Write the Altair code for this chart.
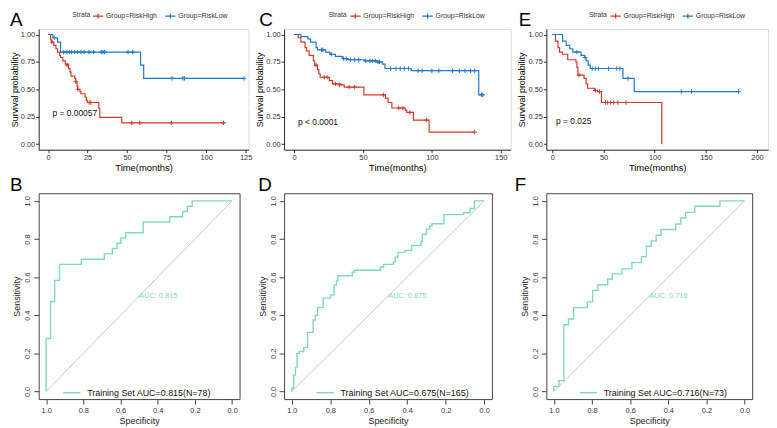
import altair as alt
import pandas as pd

FONT = "Liberation Sans"
RED = "#CF3A2B"
BLUE = "#2277C6"
TEAL = "#80D8C4"
DIAG = "#C8C8C8"
STRATA = ["Group=RiskHigh", "Group=RiskLow"]
KM_TICKS_Y = [0.0, 0.25, 0.5, 0.75, 1.0]
ROC_TICKS = [0.0, 0.2, 0.4, 0.6, 0.8, 1.0]

# ---------- Panel A (KM) ----------
A_high_t = [0, 1.6, 2.4, 3.6, 5, 6, 7.3, 7.9, 9.3, 10.9, 12.9, 13.9, 14.5, 16.9, 17.5, 18.3, 18.8, 20.2, 20.8, 23.4, 24.2, 24.8, 32.1, 32.7, 46.6, 112]
A_high_s = [1.0, 0.95, 0.93, 0.90, 0.87, 0.84, 0.81, 0.79, 0.76, 0.73, 0.69, 0.66, 0.62, 0.60, 0.57, 0.53, 0.50, 0.48, 0.46, 0.43, 0.40, 0.38, 0.33, 0.245, 0.195, 0.195]
A_low_t = [0, 3, 6, 7.9, 58.5, 60.5, 124]
A_low_s = [1.0, 0.97, 0.93, 0.84, 0.72, 0.60, 0.60]
A_high_ct = [2.4, 12, 17.5, 18.8, 26, 27, 53, 58, 78, 111]
A_high_cs = [0.93, 0.72, 0.57, 0.50, 0.38, 0.38, 0.195, 0.195, 0.195, 0.195]
A_low_ct = [4, 9.9, 11.9, 13.5, 14.9, 16.9, 18.8, 20.8, 22.8, 25.8, 28.8, 33.7, 34.7, 35.7, 50.6, 53.6, 78.4, 85.3, 86.3, 124]
A_low_cs = [0.97, 0.84, 0.84, 0.84, 0.84, 0.84, 0.84, 0.84, 0.84, 0.84, 0.84, 0.84, 0.84, 0.84, 0.84, 0.84, 0.60, 0.60, 0.60, 0.60]

# ---------- Panel C (KM) ----------
C_high_t = [0, 3, 5, 8, 9, 11, 14, 15, 17, 18, 19, 25.6, 28, 34, 36.4, 50.7, 66.3, 68.2, 71, 80.6, 81.8, 86.6, 98, 131]
C_high_s = [1.0, 0.97, 0.93, 0.88, 0.85, 0.81, 0.76, 0.72, 0.68, 0.64, 0.61, 0.58, 0.55, 0.54, 0.52, 0.45, 0.42, 0.38, 0.33, 0.31, 0.29, 0.22, 0.11, 0.11]
C_low_t = [0, 5, 10, 12, 16, 17, 23, 26, 30, 35, 39, 51, 60, 64, 66, 85, 134, 137]
C_low_s = [1.0, 0.98, 0.96, 0.93, 0.88, 0.86, 0.84, 0.82, 0.80, 0.78, 0.77, 0.76, 0.75, 0.73, 0.69, 0.67, 0.45, 0.45]
C_high_ct = [16, 22, 24, 30, 33, 40, 44, 65, 76, 79, 84, 96, 131]
C_high_cs = [0.72, 0.61, 0.61, 0.55, 0.54, 0.52, 0.52, 0.45, 0.33, 0.33, 0.29, 0.22, 0.11]
C_low_ct = [20, 21, 27, 36, 38, 41, 44, 47, 52, 55, 57, 59, 61, 62, 70, 74, 77, 80, 83, 90, 93, 100, 105, 115, 120, 124, 128, 131, 136, 137]
C_low_cs = [0.86, 0.86, 0.82, 0.78, 0.78, 0.77, 0.77, 0.77, 0.76, 0.76, 0.76, 0.76, 0.75, 0.75, 0.69, 0.69, 0.69, 0.69, 0.69, 0.67, 0.67, 0.67, 0.67, 0.67, 0.67, 0.67, 0.67, 0.67, 0.45, 0.45]

# ---------- Panel E (KM) ----------
E_high_t = [0, 3, 5.5, 7, 10, 15, 23, 24, 25, 31, 33, 34.5, 41, 44, 48, 107]
E_high_s = [1.0, 0.94, 0.88, 0.84, 0.82, 0.77, 0.75, 0.70, 0.63, 0.60, 0.55, 0.51, 0.49, 0.48, 0.38, 0.0]
E_low_t = [0, 10, 13.5, 17, 20, 28, 31.5, 33, 35, 37, 69, 80, 182]
E_low_s = [1.0, 0.94, 0.90, 0.87, 0.84, 0.81, 0.79, 0.76, 0.72, 0.69, 0.60, 0.48, 0.48]
E_high_ct = [26, 42, 46, 52, 54, 57, 60, 64, 72]
E_high_cs = [0.63, 0.49, 0.48, 0.38, 0.38, 0.38, 0.38, 0.38, 0.38]
E_low_ct = [24, 32, 39, 42, 45, 55, 63, 66, 74, 126, 136, 182]
E_low_cs = [0.84, 0.79, 0.69, 0.69, 0.69, 0.69, 0.69, 0.69, 0.60, 0.48, 0.48, 0.48]

# ---------- ROC panels ----------
B_spec = [1.0, 1.0, 0.976, 0.954, 0.928, 0.811, 0.687, 0.644, 0.619, 0.598, 0.572, 0.478, 0.335, 0.266, 0.241, 0.215, 0.0]
B_sens = [0.0, 0.278, 0.472, 0.583, 0.667, 0.694, 0.722, 0.75, 0.778, 0.806, 0.833, 0.889, 0.917, 0.944, 0.972, 1.0, 1.0]
D_spec = [1.0, 1.0, 0.990, 0.981, 0.973, 0.961, 0.938, 0.918, 0.889, 0.878, 0.866, 0.837, 0.798, 0.780, 0.768, 0.760, 0.686, 0.674, 0.540, 0.523, 0.472, 0.463, 0.449, 0.412, 0.377, 0.329, 0.322, 0.300, 0.283, 0.271, 0.209, 0.108, 0.074, 0.051, 0.0]
D_sens = [0.0, 0.017, 0.086, 0.125, 0.2, 0.21, 0.23, 0.31, 0.375, 0.40, 0.44, 0.49, 0.507, 0.558, 0.58, 0.607, 0.627, 0.636, 0.653, 0.667, 0.68, 0.704, 0.73, 0.74, 0.766, 0.787, 0.825, 0.852, 0.868, 0.88, 0.928, 0.938, 0.96, 1.0, 1.0]
F_spec = [1.0, 1.0, 0.974, 0.948, 0.924, 0.897, 0.825, 0.797, 0.770, 0.718, 0.694, 0.644, 0.591, 0.541, 0.515, 0.490, 0.464, 0.438, 0.361, 0.335, 0.309, 0.261, 0.129, 0.0]
F_sens = [0.0, 0.026, 0.057, 0.35, 0.38, 0.44, 0.47, 0.53, 0.56, 0.59, 0.617, 0.643, 0.676, 0.707, 0.762, 0.79, 0.82, 0.85, 0.879, 0.91, 0.94, 0.972, 1.0, 1.0]

DIAG_spec = [1.0, 0.0]
DIAG_sens = [0.0, 1.0]

CROSS = "M-1,0H1M0,-1V1"


def km_panel(letter, letter_dx, hi_t, hi_s, lo_t, lo_s, hi_ct, hi_cs, lo_ct, lo_cs,
             xdomain, xticks, pval, pval_xy, width, strata_x, legx):
    curve = pd.DataFrame({
        "t": hi_t + lo_t,
        "s": hi_s + lo_s,
        "strata": [STRATA[0]] * len(hi_t) + [STRATA[1]] * len(lo_t),
        "i": list(range(len(hi_t))) + list(range(len(lo_t))),
    })
    cens = pd.DataFrame({
        "t": hi_ct + lo_ct,
        "s": hi_cs + lo_cs,
        "strata": [STRATA[0]] * len(hi_ct) + [STRATA[1]] * len(lo_ct),
    })
    x = alt.X("t:Q", scale=alt.Scale(domain=xdomain, nice=False, zero=False),
              axis=alt.Axis(values=xticks, format="d", title="Time(months)", grid=False,
                            domainColor="#000", domainWidth=0.8, tickColor="#333", tickSize=3,
                            labelFontSize=7.5, labelColor="#333", labelPadding=1, labelFont=FONT,
                            titleFont=FONT, titleFontSize=9.5, titleFontWeight="normal",
                            titleColor="#000", titlePadding=2))
    y = alt.Y("s:Q", scale=alt.Scale(domain=[-0.05, 1.05], nice=False, zero=False),
              axis=alt.Axis(values=KM_TICKS_Y, format=".2f", title="Survival probability", grid=False,
                            domainColor="#000", domainWidth=0.8, tickColor="#333", tickSize=3,
                            labelFontSize=7.5, labelColor="#333", labelPadding=1, labelFont=FONT,
                            titleFont=FONT, titleFontSize=9, titleFontWeight="normal",
                            titleColor="#000", titlePadding=1, minExtent=0))
    color = alt.Color("strata:N", scale=alt.Scale(domain=STRATA, range=[RED, BLUE]),
                      legend=alt.Legend(orient="none", legendX=legx, legendY=-19, direction="horizontal",
                                        title=None, labelFont=FONT, labelFontSize=7,
                                        labelColor="#333", labelOffset=2, columnPadding=5,
                                        symbolType="M-1,0H1M0,-0.45V0.45", symbolSize=110,
                                        symbolStrokeWidth=1.3))
    lines = alt.Chart(curve).mark_line(interpolate="step-after", strokeWidth=1.2).encode(
        x=x, y=y, color=color, order="i:Q")
    pts = alt.Chart(cens).mark_point(shape=CROSS, filled=False, size=20, strokeWidth=1, opacity=1).encode(
        x=x, y=y, color=color)
    ptxt = alt.Chart(pd.DataFrame({"t": [pval_xy[0]], "s": [pval_xy[1]], "label": [pval]})).mark_text(
        align="left", baseline="middle", font=FONT, fontSize=8.5, color="#111").encode(
        x=x, y=y, text="label:N")
    st = alt.Chart(pd.DataFrame({"w": ["Strata"]})).mark_text(
        align="left", baseline="middle", font=FONT, fontSize=6.8, color="#333").encode(
        x=alt.value(strata_x), y=alt.value(-14), text="w:N")
    lt = alt.Chart(pd.DataFrame({"letter": [letter]})).mark_text(
        align="left", baseline="alphabetic", font=FONT, fontSize=19, color="#000").encode(
        x=alt.value(letter_dx), y=alt.value(-3), text="letter:N")
    return alt.layer(lines, pts, ptxt, st, lt).properties(width=width, height=122)


def roc_panel(letter, letter_dx, spec, sens, auc, label, legx, width):
    curve = pd.DataFrame({"spec": spec, "sens": sens, "i": list(range(len(spec))), "lab": [label] * len(spec)})
    diag = pd.DataFrame({"spec": DIAG_spec, "sens": DIAG_sens})
    axis_common = dict(grid=False, domain=False, tickColor="#444", tickSize=5, labelFontSize=7.5,
                       labelColor="#333", labelFont=FONT, titleFont=FONT, titleFontSize=9,
                       titleFontWeight="normal", titleColor="#222", format=".1f", values=ROC_TICKS)
    x = alt.X("spec:Q", scale=alt.Scale(domain=[-0.04, 1.04], reverse=True, nice=False, zero=False),
              axis=alt.Axis(title="Specificity", labelPadding=3, titlePadding=2, **axis_common))
    y = alt.Y("sens:Q", scale=alt.Scale(domain=[-0.04, 1.04], nice=False, zero=False),
              axis=alt.Axis(title="Sensitivity", labelAngle=270, labelAlign="center",
                            labelBaseline="bottom", labelPadding=2, titlePadding=2, minExtent=0,
                            **axis_common))
    dl = alt.Chart(diag).mark_line(color=DIAG, strokeWidth=1).encode(x=x, y=y)
    color = alt.Color("lab:N", scale=alt.Scale(range=[TEAL]),
                      legend=alt.Legend(orient="none", legendX=legx, legendY=192, title=None,
                                        symbolType="stroke", symbolSize=300, symbolStrokeWidth=1.5,
                                        labelFont=FONT, labelFontSize=9, labelColor="#111",
                                        labelOffset=6))
    rl = alt.Chart(curve).mark_line(interpolate="step-after", strokeWidth=1.4).encode(
        x=x, y=y, color=color, order="i:Q")
    at = alt.Chart(pd.DataFrame({"spec": [0.5], "sens": [0.5], "t": [auc]})).mark_text(
        align="left", baseline="middle", font=FONT, fontSize=7.5, color=TEAL).encode(
        x=x, y=y, text="t:N")
    lt = alt.Chart(pd.DataFrame({"letter": [letter]})).mark_text(
        align="left", baseline="alphabetic", font=FONT, fontSize=19, color="#000").encode(
        x=alt.value(letter_dx), y=alt.value(-2), text="letter:N")
    return alt.layer(dl, rl, at, lt).properties(
        width=width, height=208, view=alt.ViewBackground(stroke="#444", strokeWidth=1))


pA = km_panel("A", -29, A_high_t, A_high_s, A_low_t, A_low_s, A_high_ct, A_high_cs, A_low_ct, A_low_cs,
              [-5.95, 126.8], [0, 25, 50, 75, 100, 125], "p = 0.00057", (2.8, 0.28), 212, 34, 54)
pC = km_panel("C", -25, C_high_t, C_high_s, C_low_t, C_low_s, C_high_ct, C_high_cs, C_low_ct, C_low_cs,
              [-7.2, 157.2], [0, 50, 100, 150], "p < 0.0001", (2.9, 0.20), 229, 45, 66)
pE = km_panel("E", -28, E_high_t, E_high_s, E_low_t, E_low_s, E_high_ct, E_high_cs, E_low_ct, E_low_cs,
              [-5.9, 210.8], [0, 50, 100, 150, 200], "p = 0.025", (3.6, 0.21), 224, 43, 64)
pB = roc_panel("B", -29, B_spec, B_sens, "AUC: 0.815", "Training Set AUC=0.815(N=78)", 24, 203)
pD = roc_panel("D", -26, D_spec, D_sens, "AUC: 0.675", "Training Set AUC=0.675(N=165)", 32, 210)
pF = roc_panel("F", -32, F_spec, F_sens, "AUC: 0.716", "Training Set AUC=0.716(N=73)", 33, 208)

chart = alt.concat(pA, pC, pE, pB, pD, pF, columns=3, spacing={"row": 44, "column": 36},
                   bounds="flush", align="each").resolve_scale(color="independent").properties(
    padding={"left": 1, "top": -1, "right": 0, "bottom": 0}
).configure_view(stroke="transparent").configure(background="white")

chart.save("out.html", embed_options={"renderer": "svg", "actions": False})
